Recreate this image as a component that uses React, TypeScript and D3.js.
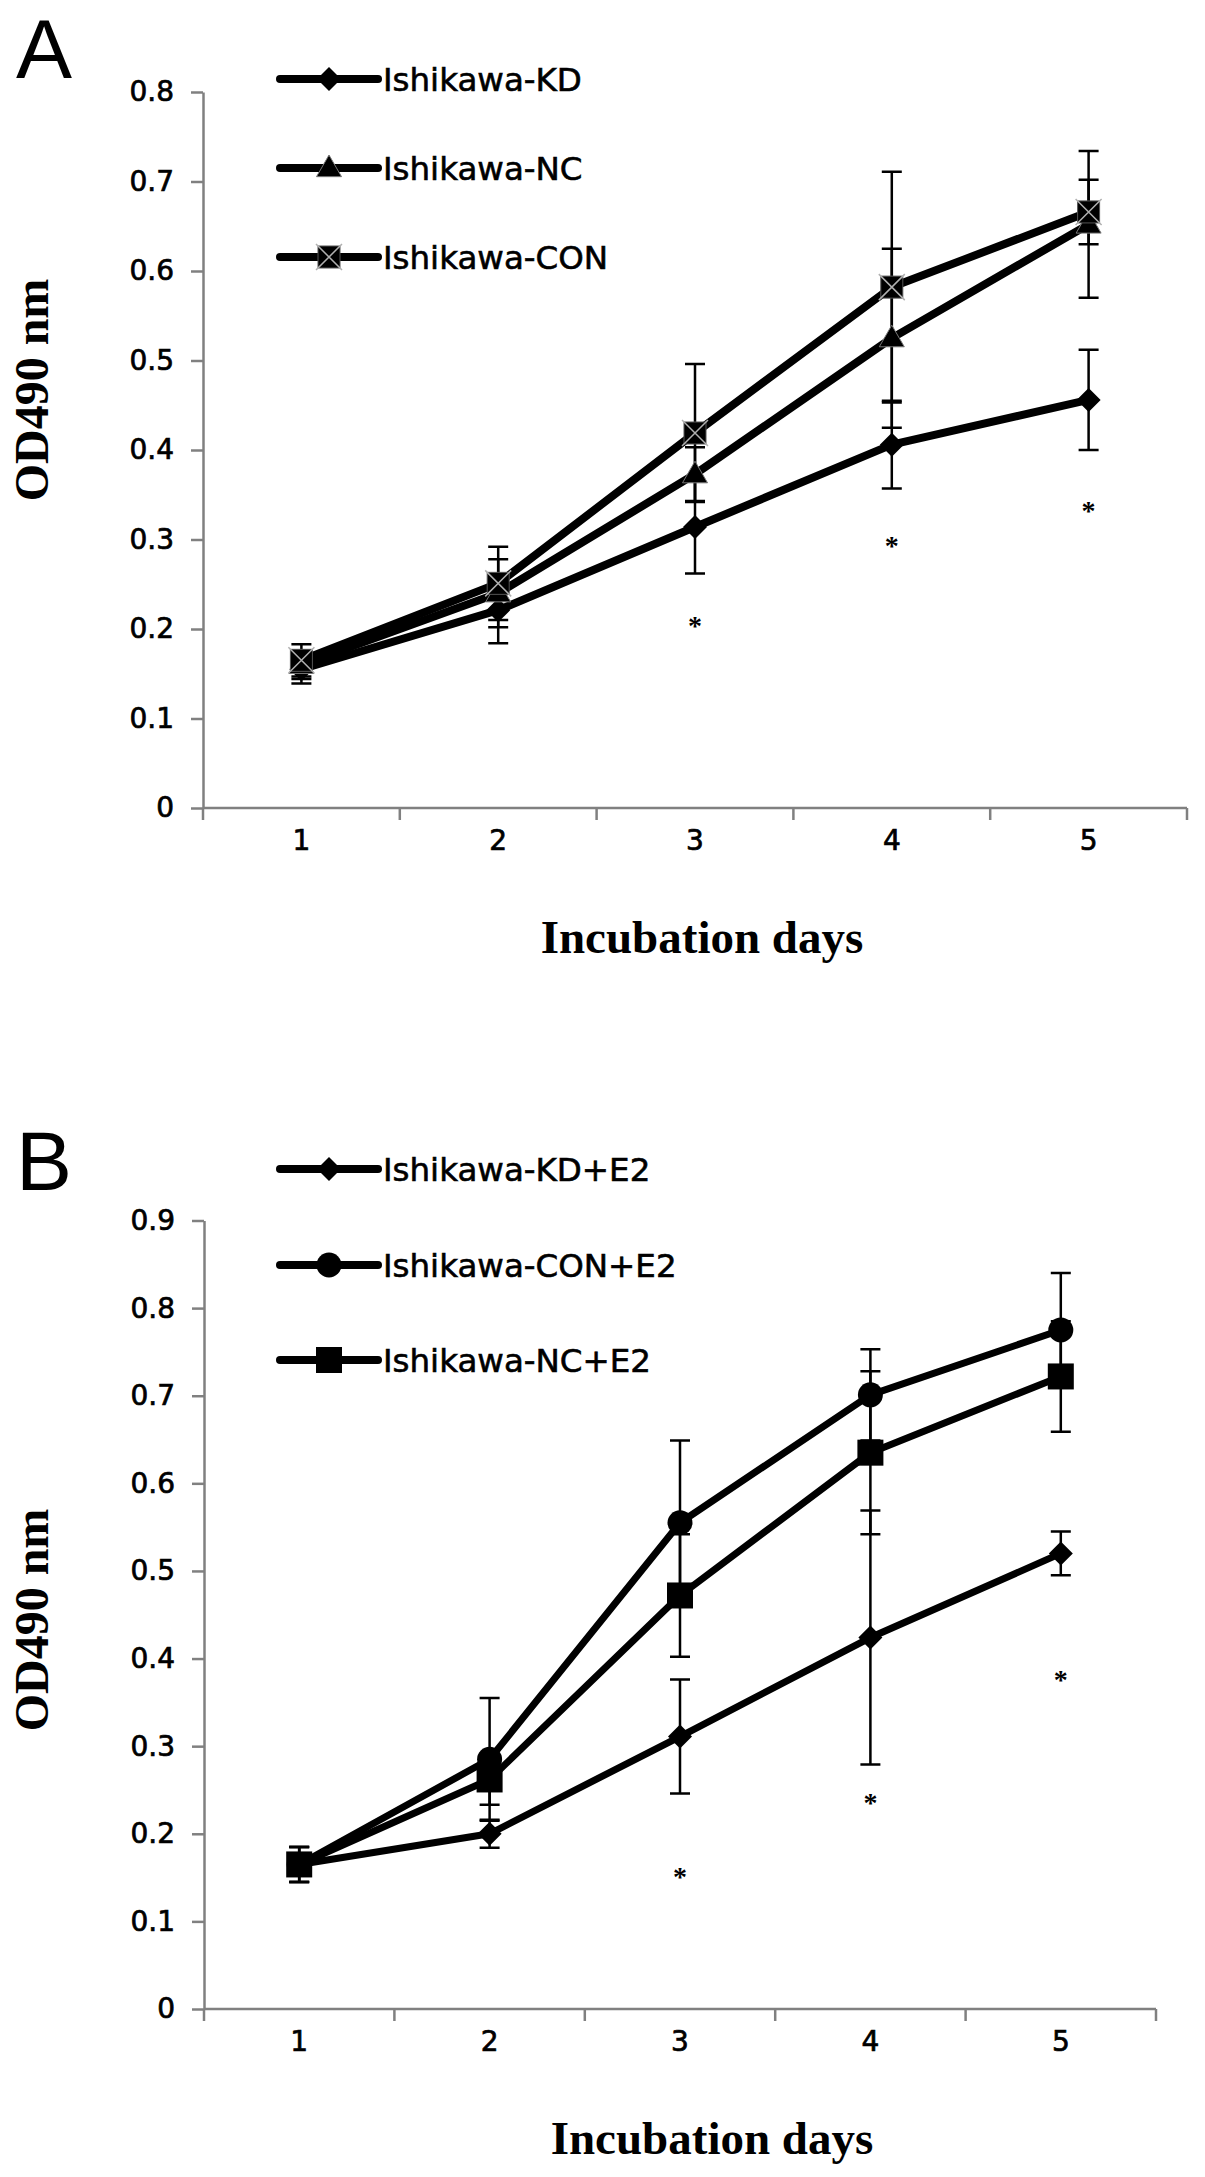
import { useEffect, useRef } from 'react';
import * as d3 from 'd3';

// ---- data ----
const days = [1, 2, 3, 4, 5];

// Panel A
const kdA = [0.155, 0.221, 0.314, 0.406, 0.456];
const kdAErr = [0.016, 0.037, 0.052, 0.049, 0.056];
const ncA = [0.16, 0.24, 0.373, 0.525, 0.652];
const ncAErr = [0.016, 0.038, 0.03, 0.1, 0.082];
const conA = [0.165, 0.251, 0.419, 0.582, 0.666];
const conAErr = [0.018, 0.041, 0.077, 0.129, 0.036];
const starsA = [
  { day: 3, v: 0.208 },
  { day: 4, v: 0.297 },
  { day: 5, v: 0.336 },
];

// Panel B
const kdB = [0.165, 0.2, 0.311, 0.424, 0.52];
const kdBErr = [0.02, 0.016, 0.065, 0.145, 0.025];
const conB = [0.165, 0.285, 0.555, 0.701, 0.775];
const conBErr = [0.02, 0.07, 0.094, 0.052, 0.065];
const ncB = [0.165, 0.262, 0.472, 0.635, 0.722];
const ncBErr = [0.02, 0.029, 0.07, 0.093, 0.063];
const starsB = [
  { day: 3, v: 0.155 },
  { day: 4, v: 0.24 },
  { day: 5, v: 0.38 },
];

const ticksA = [0, 0.1, 0.2, 0.3, 0.4, 0.5, 0.6, 0.7, 0.8];
const ticksB = [0, 0.1, 0.2, 0.3, 0.4, 0.5, 0.6, 0.7, 0.8, 0.9];

type Marker = 'diamond' | 'triangle' | 'squareX' | 'circle' | 'square';

interface Series {
  name: string;
  values: number[];
  errors: number[];
  marker: Marker;
}

interface PanelConfig {
  letter: string;
  letterY: number;
  x0: number;
  x1: number;
  yTop: number;
  yBottom: number;
  yMax: number;
  ticks: number[];
  series: Series[];
  legendOrder: number[];
  legendY: number[];
  stars: { day: number; v: number }[];
  yTitleY: number;
  xTitleX: number;
  lineWidth: number;
}

const drawMarker = (
  g: d3.Selection<SVGGElement, unknown, null, undefined>,
  marker: Marker,
  cx: number,
  cy: number,
) => {
  if (marker === 'diamond') {
    const r = 12;
    g.append('path')
      .attr('d', `M${cx},${cy - r}L${cx + r},${cy}L${cx},${cy + r}L${cx - r},${cy}Z`)
      .attr('fill', '#000');
  } else if (marker === 'triangle') {
    const s = 25;
    const h = s * 0.866;
    g.append('path')
      .attr('d', `M${cx},${cy - h * 0.6}L${cx + s / 2},${cy + h * 0.4}L${cx - s / 2},${cy + h * 0.4}Z`)
      .attr('fill', '#000')
      .attr('stroke', '#777')
      .attr('stroke-width', 1);
  } else if (marker === 'squareX') {
    const r = 11;
    g.append('rect')
      .attr('x', cx - r)
      .attr('y', cy - r)
      .attr('width', 2 * r)
      .attr('height', 2 * r)
      .attr('fill', '#000')
      .attr('stroke', '#555')
      .attr('stroke-width', 1);
    g.append('path')
      .attr('d', `M${cx - r - 2},${cy - r - 2}L${cx + r + 2},${cy + r + 2}M${cx + r + 2},${cy - r - 2}L${cx - r - 2},${cy + r + 2}`)
      .attr('stroke', '#b0b0b0')
      .attr('stroke-width', 1.5);
  } else if (marker === 'circle') {
    g.append('circle')
      .attr('cx', cx)
      .attr('cy', cy)
      .attr('r', 12.5)
      .attr('fill', '#000');
  } else {
    const r = 13;
    g.append('rect')
      .attr('x', cx - r)
      .attr('y', cy - r)
      .attr('width', 2 * r)
      .attr('height', 2 * r)
      .attr('fill', '#000');
  }
};

const drawPanel = (
  svg: d3.Selection<SVGSVGElement, unknown, null, undefined>,
  cfg: PanelConfig,
) => {
  const g = svg.append('g');

  const x = d3.scaleBand<number>().domain(days).range([cfg.x0, cfg.x1]).padding(0);
  const y = d3.scaleLinear().domain([0, cfg.yMax]).range([cfg.yBottom, cfg.yTop]);
  const cxOf = (d: number) => (x(d) || 0) + x.bandwidth() / 2;

  // Panel letter
  g.append('text')
    .attr('x', 16)
    .attr('y', cfg.letterY)
    .attr('font-family', 'Liberation Sans, Arial, sans-serif')
    .attr('font-size', '84px')
    .attr('fill', '#000')
    .text(cfg.letter);

  // Y axis
  const yAxis = g.append('g')
    .attr('transform', `translate(${cfg.x0},0)`)
    .call(d3.axisLeft(y)
      .tickValues(cfg.ticks)
      .tickSize(12)
      .tickSizeOuter(0)
      .tickPadding(17)
      .tickFormat((d) => (+d === 0 ? '0' : d3.format('.1f')(+d))));
  yAxis.select('.domain').attr('stroke', '#808080').attr('stroke-width', 2.5);
  yAxis.selectAll('.tick line').attr('stroke', '#808080').attr('stroke-width', 2.5);
  yAxis.selectAll('.tick text')
    .attr('font-family', 'DejaVu Sans, sans-serif')
    .attr('font-size', '28px')
    .attr('fill', '#000')
    .attr('stroke', '#000')
    .attr('stroke-width', 0.7);

  // X axis: labels at band centers, ticks at band boundaries
  const xAxis = g.append('g')
    .attr('transform', `translate(0,${cfg.yBottom})`)
    .call(d3.axisBottom(x).tickSize(0).tickSizeOuter(0).tickPadding(22));
  xAxis.select('.domain')
    .attr('d', `M${cfg.x0},0H${cfg.x1}`)
    .attr('stroke', '#808080')
    .attr('stroke-width', 2.5);
  xAxis.selectAll('.tick text')
    .attr('font-family', 'DejaVu Sans, sans-serif')
    .attr('font-size', '28px')
    .attr('fill', '#000')
    .attr('stroke', '#000')
    .attr('stroke-width', 0.7);
  const bounds = [...days.map((d) => x(d) || 0), cfg.x1];
  xAxis.selectAll('.bound')
    .data(bounds)
    .join('line')
    .attr('class', 'bound')
    .attr('x1', (d) => d)
    .attr('x2', (d) => d)
    .attr('y1', 0)
    .attr('y2', 12)
    .attr('stroke', '#808080')
    .attr('stroke-width', 2.5);

  // Axis titles
  g.append('text')
    .attr('transform', `translate(48,${cfg.yTitleY}) rotate(-90)`)
    .attr('text-anchor', 'middle')
    .attr('font-family', 'Liberation Serif, Times New Roman, serif')
    .attr('font-weight', 'bold')
    .attr('font-size', '48px')
    .attr('fill', '#000')
    .text('OD490 nm');

  g.append('text')
    .attr('x', cfg.xTitleX)
    .attr('y', cfg.yBottom + 145)
    .attr('text-anchor', 'middle')
    .attr('font-family', 'Liberation Serif, Times New Roman, serif')
    .attr('font-weight', 'bold')
    .attr('font-size', '47px')
    .attr('fill', '#000')
    .text('Incubation days');

  // Series
  const line = d3.line<number>()
    .x((_, i) => cxOf(days[i]))
    .y((v) => y(v));

  cfg.series.forEach((s) => {
    const sg = g.append('g');
    sg.append('path')
      .datum(s.values)
      .attr('d', line)
      .attr('fill', 'none')
      .attr('stroke', '#000')
      .attr('stroke-width', cfg.lineWidth)
      .attr('stroke-linejoin', 'round');

    s.values.forEach((v, i) => {
      const cx = cxOf(days[i]);
      const e = s.errors[i];
      sg.append('path')
        .attr('d', `M${cx},${y(v - e)}V${y(v + e)}M${cx - 10},${y(v + e)}H${cx + 10}M${cx - 10},${y(v - e)}H${cx + 10}`)
        .attr('stroke', '#000')
        .attr('stroke-width', 2.5)
        .attr('fill', 'none');
    });
  });

  cfg.series.forEach((s) => {
    const mg = g.append('g');
    s.values.forEach((v, i) => drawMarker(mg, s.marker, cxOf(days[i]), y(v)));
  });

  // Significance marks
  g.selectAll('.star')
    .data(cfg.stars)
    .join('text')
    .attr('class', 'star')
    .attr('x', (d) => cxOf(d.day))
    .attr('y', (d) => y(d.v) + 13)
    .attr('text-anchor', 'middle')
    .attr('font-family', 'Liberation Serif, Times New Roman, serif')
    .attr('font-weight', 'bold')
    .attr('font-size', '28px')
    .attr('fill', '#000')
    .text('*');

  // Legend
  cfg.legendOrder.forEach((idx, k) => {
    const s = cfg.series[idx];
    const ly = cfg.legendY[k];
    const lg = g.append('g');
    lg.append('line')
      .attr('x1', 280)
      .attr('x2', 378)
      .attr('y1', ly)
      .attr('y2', ly)
      .attr('stroke', '#000')
      .attr('stroke-width', 8)
      .attr('stroke-linecap', 'round');
    drawMarker(lg, s.marker, 329, ly);
    lg.append('text')
      .attr('x', 383)
      .attr('y', ly)
      .attr('dy', '0.36em')
      .attr('font-family', 'DejaVu Sans, sans-serif')
      .attr('font-size', '32.5px')
      .attr('fill', '#000')
      .attr('stroke', '#000')
      .attr('stroke-width', 0.6)
      .text(s.name);
  });
};

export default function App() {
  const svgRef = useRef<SVGSVGElement>(null);

  useEffect(() => {
    if (!svgRef.current) return;
    const svg = d3.select(svgRef.current);
    svg.selectAll('*').remove();

    svg.append('rect')
      .attr('width', 1205)
      .attr('height', 2177)
      .attr('fill', '#fff');

    drawPanel(svg, {
      letter: 'A',
      letterY: 78,
      x0: 203,
      x1: 1187,
      yTop: 92,
      yBottom: 808,
      yMax: 0.8,
      ticks: ticksA,
      series: [
        { name: 'Ishikawa-KD', values: kdA, errors: kdAErr, marker: 'diamond' },
        { name: 'Ishikawa-NC', values: ncA, errors: ncAErr, marker: 'triangle' },
        { name: 'Ishikawa-CON', values: conA, errors: conAErr, marker: 'squareX' },
      ],
      legendOrder: [0, 1, 2],
      legendY: [79, 168, 257],
      stars: starsA,
      yTitleY: 390,
      xTitleX: 702,
      lineWidth: 8,
    });

    drawPanel(svg, {
      letter: 'B',
      letterY: 1190,
      x0: 204,
      x1: 1156,
      yTop: 1220.5,
      yBottom: 2009,
      yMax: 0.9,
      ticks: ticksB,
      series: [
        { name: 'Ishikawa-KD+E2', values: kdB, errors: kdBErr, marker: 'diamond' },
        { name: 'Ishikawa-NC+E2', values: ncB, errors: ncBErr, marker: 'square' },
        { name: 'Ishikawa-CON+E2', values: conB, errors: conBErr, marker: 'circle' },
      ],
      legendOrder: [0, 2, 1],
      legendY: [1169, 1265, 1360],
      stars: starsB,
      yTitleY: 1620,
      xTitleX: 712,
      lineWidth: 7,
    });
  }, []);

  return (
    <svg
      ref={svgRef}
      width={1205}
      height={2177}
      style={{ position: 'absolute', left: 0, top: 0, display: 'block' }}
    />
  );
}
